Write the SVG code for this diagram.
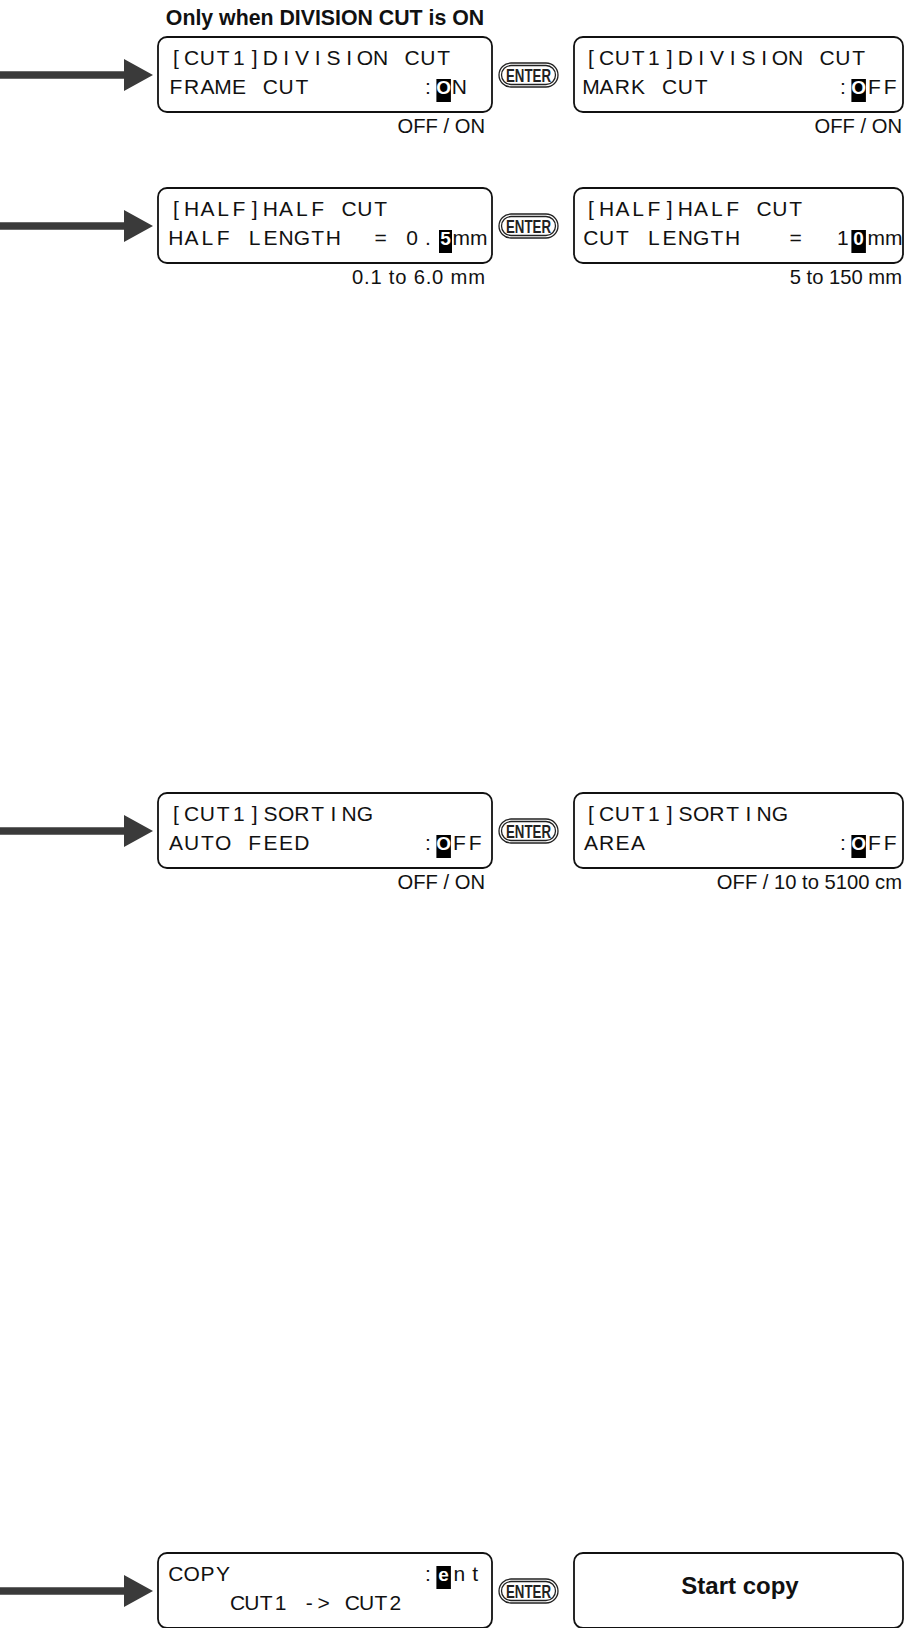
<svg xmlns="http://www.w3.org/2000/svg" width="904" height="1628" viewBox="0 0 904 1628">
<style>
.box{fill:#fff;stroke:#111;stroke-width:1.8}
.lcd{font-family:"Liberation Sans",Arial,sans-serif;font-size:21px;fill:#111;text-anchor:middle}
.lcdn{font-family:"Liberation Sans",Arial,sans-serif;font-size:21px;fill:#111}
.hl{fill:#000}
.hlt{font-family:"Liberation Sans",Arial,sans-serif;font-size:19px;fill:#fff;font-weight:bold;text-anchor:middle}
.lab{font-family:"Liberation Sans",Arial,sans-serif;font-size:20.2px;fill:#111;text-anchor:end}
.title{font-family:"Liberation Sans",Arial,sans-serif;font-size:21.3px;font-weight:bold;fill:#111;text-anchor:middle}
.big{font-family:"Liberation Sans",Arial,sans-serif;font-size:24px;font-weight:bold;fill:#111;text-anchor:middle}
.ep{fill:#fff;stroke:#222;stroke-width:1.3}
.et{font-family:"Liberation Sans",Arial,sans-serif;font-size:19px;font-weight:bold;fill:#222;text-anchor:middle}
.al{stroke:#3a3a3a;stroke-width:7.5;fill:none}
.ah{fill:#3a3a3a}
</style>
<defs>
<g id="enterBtn">
<rect class="ep" x="0" y="0" width="59" height="24" rx="12"/>
<rect class="ep" x="2.5" y="2.5" width="54" height="19" rx="9.5"/>
<text class="et" x="29.5" y="18.5" textLength="45" lengthAdjust="spacingAndGlyphs">ENTER</text>
</g>
</defs>

<g id="connectors">
<line class="al" x1="0" y1="75" x2="127" y2="75"/><polygon class="ah" points="124,59 153,75 124,91"/>
<line class="al" x1="0" y1="226" x2="127" y2="226"/><polygon class="ah" points="124,210 153,226 124,242"/>
<line class="al" x1="0" y1="831" x2="127" y2="831"/><polygon class="ah" points="124,815 153,831 124,847"/>
<line class="al" x1="0" y1="1591" x2="127" y2="1591"/><polygon class="ah" points="124,1575 153,1591 124,1607"/>
</g>

<text id="title" class="title" x="325" y="25">Only when DIVISION CUT is ON</text>

<!-- Row 1 -->
<g id="frame-cut">
<rect class="box" x="158" y="37" width="334" height="75" rx="9"/>
<text class="lcd" x="175.9 191.6 207.4 223.1 238.9 254.6 270.4 286.1 301.9 317.6 333.4 349.1 364.9 380.6 396.4 412.1 427.9 443.6" y="65">[CUT1]DIVISION CUT</text>
<text class="lcd" x="175.9 191.6 207.4 223.1 238.9 254.6 270.4 286.1 301.9" y="94">FRAME CUT</text>
<text class="lcd" x="427.9" y="94">:</text>
<rect class="hl" x="436.4" y="79" width="14.5" height="23"/>
<text class="hlt" x="443.6" y="94">O</text>
<text class="lcd" x="459.4" y="94">N</text>
<text class="lab" x="485" y="133">OFF / ON</text>
</g>
<g id="enter1"><use href="#enterBtn" x="499" y="63"/></g>
<g id="mark-cut">
<rect class="box" x="574" y="37" width="329" height="75" rx="9"/>
<text class="lcd" x="590.9 606.6 622.4 638.1 653.9 669.6 685.4 701.1 716.9 732.6 748.4 764.1 779.9 795.6 811.4 827.1 842.9 858.6" y="65">[CUT1]DIVISION CUT</text>
<text class="lcd" x="590.9 606.6 622.4 638.1 653.9 669.6 685.4 701.1" y="94">MARK CUT</text>
<text class="lcd" x="842.9" y="94">:</text>
<rect class="hl" x="851.4" y="79" width="14.5" height="23"/>
<text class="hlt" x="858.6" y="94">O</text>
<text class="lcd" x="874.4 890.1" y="94">FF</text>
<text class="lab" x="902" y="133">OFF / ON</text>
</g>

<!-- Row 2 -->
<g id="half-length">
<rect class="box" x="158" y="188" width="334" height="75" rx="9"/>
<text class="lcd" x="175.9 191.6 207.4 223.1 238.9 254.6 270.4 286.1 301.9 317.6 333.4 349.1 364.9 380.6" y="216">[HALF]HALF CUT</text>
<text class="lcd" x="175.9 191.6 207.4 223.1 238.9 254.6 270.4 286.1 301.9 317.6 333.4" y="245">HALF LENGTH</text>
<text class="lcd" x="380.6" y="245">=</text>
<text class="lcd" x="412.1 427.9" y="245">0.</text>
<rect class="hl" x="439" y="230" width="13" height="23"/>
<text class="hlt" x="445.5" y="245">5</text>
<text class="lcdn" x="452.5" y="245">mm</text>
<text class="lab" x="485" y="284" textLength="133" lengthAdjust="spacing">0.1 to 6.0 mm</text>
</g>
<g id="enter2"><use href="#enterBtn" x="499" y="214"/></g>
<g id="cut-length">
<rect class="box" x="574" y="188" width="329" height="75" rx="9"/>
<text class="lcd" x="590.9 606.6 622.4 638.1 653.9 669.6 685.4 701.1 716.9 732.6 748.4 764.1 779.9 795.6" y="216">[HALF]HALF CUT</text>
<text class="lcd" x="590.9 606.6 622.4 638.1 653.9 669.6 685.4 701.1 716.9 732.6" y="245">CUT LENGTH</text>
<text class="lcd" x="795.6" y="245">=</text>
<text class="lcd" x="842.9" y="245">1</text>
<rect class="hl" x="851.4" y="230" width="14.5" height="23"/>
<text class="hlt" x="858.6" y="245">0</text>
<text class="lcdn" x="867.5" y="245">mm</text>
<text class="lab" x="902" y="284">5 to 150 mm</text>
</g>

<!-- Row 3 -->
<g id="auto-feed">
<rect class="box" x="158" y="793" width="334" height="75" rx="9"/>
<text class="lcd" x="175.9 191.6 207.4 223.1 238.9 254.6 270.4 286.1 301.9 317.6 333.4 349.1 364.9" y="821">[CUT1]SORTING</text>
<text class="lcd" x="175.9 191.6 207.4 223.1 238.9 254.6 270.4 286.1 301.9" y="850">AUTO FEED</text>
<text class="lcd" x="427.9" y="850">:</text>
<rect class="hl" x="436.4" y="835" width="14.5" height="23"/>
<text class="hlt" x="443.6" y="850">O</text>
<text class="lcd" x="459.4 475.1" y="850">FF</text>
<text class="lab" x="485" y="889">OFF / ON</text>
</g>
<g id="enter3"><use href="#enterBtn" x="499" y="819"/></g>
<g id="area">
<rect class="box" x="574" y="793" width="329" height="75" rx="9"/>
<text class="lcd" x="590.9 606.6 622.4 638.1 653.9 669.6 685.4 701.1 716.9 732.6 748.4 764.1 779.9" y="821">[CUT1]SORTING</text>
<text class="lcd" x="590.9 606.6 622.4 638.1" y="850">AREA</text>
<text class="lcd" x="842.9" y="850">:</text>
<rect class="hl" x="851.4" y="835" width="14.5" height="23"/>
<text class="hlt" x="858.6" y="850">O</text>
<text class="lcd" x="874.4 890.1" y="850">FF</text>
<text class="lab" x="902" y="889">OFF / 10 to 5100 cm</text>
</g>

<!-- Row 4 -->
<g id="copy">
<rect class="box" x="158" y="1553" width="334" height="75" rx="9"/>
<text class="lcd" x="175.9 191.6 207.4 223.1" y="1581">COPY</text>
<text class="lcd" x="427.9" y="1581">:</text>
<rect class="hl" x="436.4" y="1566" width="14.5" height="23"/>
<text class="hlt" x="443.6" y="1581">e</text>
<text class="lcd" x="459.4 475.1" y="1581">nt</text>
<text class="lcd" x="237.5 251.9 266.2 280.6 294.9 309.3 323.6 338 352.3 366.7 381 395.4" y="1610">CUT1 -&gt; CUT2</text>
</g>
<g id="enter4"><use href="#enterBtn" x="499" y="1579"/></g>
<g id="start-copy">
<rect class="box" x="574" y="1553" width="329" height="75" rx="9"/>
<text class="big" x="740" y="1594">Start copy</text>
</g>
</svg>
